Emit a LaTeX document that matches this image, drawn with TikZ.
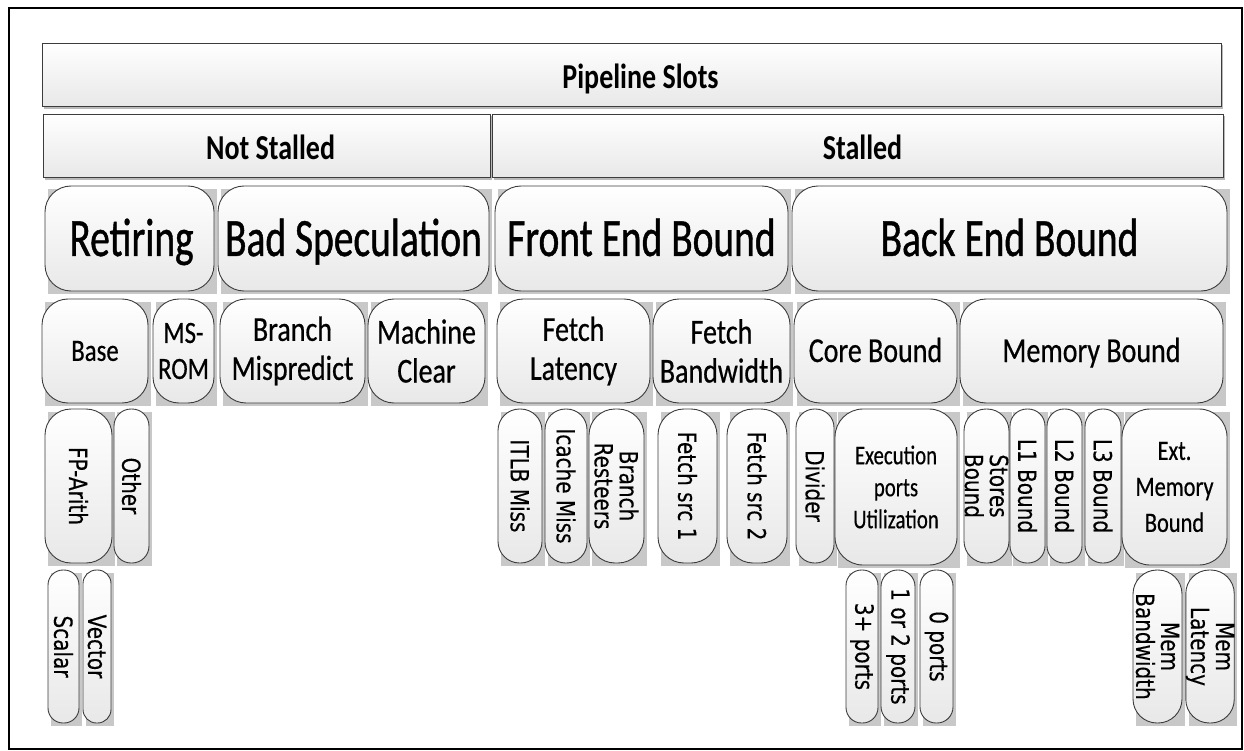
\documentclass[tikz,border=0pt]{standalone}
\usepackage{fontspec}
\setmainfont{Carlito}
\newfontfamily\fBig[FakeStretch=0.73,FakeBold=0.8]{Carlito}
\newfontfamily\fMid[FakeStretch=0.80,FakeBold=0.5]{Carlito}
\newfontfamily\fHdr[FakeStretch=0.80]{Carlito}
\newfontfamily\fSml[FakeStretch=0.77,FakeBold=0.4]{Carlito}
\newfontfamily\fRot[FakeStretch=0.80,FakeBold=0.3]{DejaVu Sans}
\pgfdeclarelayer{shadowlayer}
\pgfsetlayers{shadowlayer,main}
\definecolor{edgec}{RGB}{60,60,60}
\definecolor{shadc}{RGB}{200,200,200}
\definecolor{shadr}{RGB}{185,185,185}
\definecolor{botc}{RGB}{232,232,232}
\tikzset{
  boxbase/.style={draw=edgec, line width=0.9pt, top color=white, bottom color=botc,
    inner sep=0pt, align=center, text=black},
  bigtxt/.style={font=\fBig\fontsize{54}{60}\selectfont, text height=35pt, text depth=0pt},
  midtxt/.style={font=\fMid\fontsize{35}{39}\selectfont},
  midone/.style={font=\fMid\fontsize{35}{39}\selectfont, text height=22pt, text depth=0pt},
  basetxt/.style={font=\fMid\fontsize{31}{36}\selectfont},
  smltxt/.style={font=\fSml\fontsize{27}{32}\selectfont},
  exttxt/.style={font=\fMid\fontsize{28}{36}\selectfont},
  rottxt/.style={font=\fRot\fontsize{25}{25}\selectfont},
  hdrtxt/.style={font=\fHdr\bfseries\fontsize{35}{40}\selectfont, text height=29pt, text depth=0pt},
}
\newcommand\bx[8]{%
  \begin{pgfonlayer}{shadowlayer}
    \fill[shadc] ({#2+3},{#3+3}) rectangle ({#4+3},{#5+3});
  \end{pgfonlayer}
  \node[boxbase, rounded corners=#6pt, minimum width={(#4-#2)*1pt},
        minimum height={(#5-#3)*1pt}, #7] (#1) at ({(#2+#4)/2},{(#3+#5)/2}) {#8};
}
\newcommand\rb[6]{%
  \begin{pgfonlayer}{shadowlayer}
    \fill[shadr] ({#2+2},{#3+2}) rectangle ({#4+2},{#5+3});
  \end{pgfonlayer}
  \node[boxbase, minimum width={(#4-#2)*1pt},
        minimum height={(#5-#3)*1pt}, hdrtxt] (#1) at ({(#2+#4)/2},{(#3+#5)/2}) {#6};
}
\newcommand\rone[1]{\rotatebox{-90}{#1}}
\newcommand\rtwo[2]{\rotatebox{-90}{\vbox{\lineskiplimit=-100pt\halign{\hfil##\hfil\cr#1\cr#2\cr}}}}
\begin{document}
\begin{tikzpicture}[x=1pt,y=-1pt]
\useasboundingbox (0,0) rectangle (1244,751);
\draw[line width=2pt] (9,8) rectangle (1242,749);
% row 1 and 2
\rb{ps}{42}{43}{1221}{106}{\hspace*{18pt}Pipeline Slots}
\rb{ns}{43}{114}{490}{177}{\hspace*{8pt}Not Stalled}
\rb{st}{492}{114}{1223}{177}{\hspace*{10pt}Stalled}
% row 3
\bx{ret}{45}{186}{214}{291}{26}{bigtxt}{\hspace*{4pt}Retiring}
\bx{bad}{218}{186}{489}{291}{26}{bigtxt}{Bad Speculation}
\bx{feb}{495}{186}{788}{291}{26}{bigtxt}{Front End Bound}
\bx{beb}{792}{186}{1227}{291}{26}{bigtxt}{Back End Bound}
% row 4
\bx{base}{42}{299}{148}{403}{26}{basetxt}{Base}
\bx{msrom}{153}{299}{214}{403}{26}{basetxt}{MS-\\ROM}
\bx{bmis}{220}{299}{365}{403}{26}{midtxt}{Branch\\Mispredict}
\bx{mclr}{368}{299}{485}{403}{26}{midtxt}{Machine\\Clear}
\bx{flat}{497}{299}{650}{403}{26}{midtxt}{Fetch\\Latency}
\bx{fbw}{653}{299}{790}{403}{26}{midtxt}{Fetch\\Bandwidth}
\bx{core}{794}{299}{957}{403}{26}{midone}{Core Bound}
\bx{mem}{960}{299}{1223}{403}{26}{midone}{Memory Bound}
% row 5
\bx{fpa}{45}{409}{112}{563}{26}{rottxt}{\rone{FP-Arith}}
\bx{oth}{114}{409}{149}{563}{17}{rottxt}{\rone{Other}}
\bx{itlb}{498}{409}{542}{563}{21.5}{rottxt}{\rone{ITLB Miss}}
\bx{icm}{545}{409}{587}{563}{20.5}{rottxt}{\rone{Icache Miss}}
\bx{bres}{589}{409}{644}{563}{26}{rottxt}{\rtwo{Branch}{Resteers}}
\bx{fs1}{658}{409}{717}{563}{26}{rottxt}{\rone{Fetch src 1}}
\bx{fs2}{727}{409}{787}{563}{26}{rottxt}{\rone{Fetch src 2}}
\bx{div}{796}{409}{834}{563}{18.5}{rottxt}{\rone{Divider}}
\bx{exec}{835}{409}{957}{565}{28}{smltxt}{Execution\\ports\\Utilization}
\bx{stb}{964}{409}{1009}{563}{22}{rottxt}{\rtwo{Stores}{Bound}}
\bx{lone}{1010}{409}{1045}{563}{17}{rottxt}{\rone{L1 Bound}}
\bx{ltwo}{1047}{409}{1082}{563}{17}{rottxt}{\rone{L2 Bound}}
\bx{lthree}{1085}{409}{1121}{563}{17.5}{rottxt}{\rone{L3 Bound}}
\bx{ext}{1122}{409}{1227}{565}{28}{exttxt}{Ext.\\Memory\\Bound}
% row 6
\bx{scal}{48}{570}{79}{723}{15}{rottxt}{\rone{Scalar}}
\bx{vec}{83}{570}{111}{723}{13.5}{rottxt}{\rone{Vector}}
\bx{pthree}{846}{570}{878}{723}{15.5}{rottxt}{\rone{3+ ports}}
\bx{ponetwo}{881}{570}{915}{723}{16.5}{rottxt}{\rone{1 or 2 ports}}
\bx{pzero}{920}{570}{953}{723}{16}{rottxt}{\rone{0 ports}}
\bx{mbw}{1133}{570}{1182}{723}{24}{rottxt}{\rtwo{Mem}{Bandwidth}}
\bx{mlat}{1186}{570}{1234}{723}{23.5}{rottxt}{\rtwo{Mem}{Latency}}
\end{tikzpicture}
\end{document}
